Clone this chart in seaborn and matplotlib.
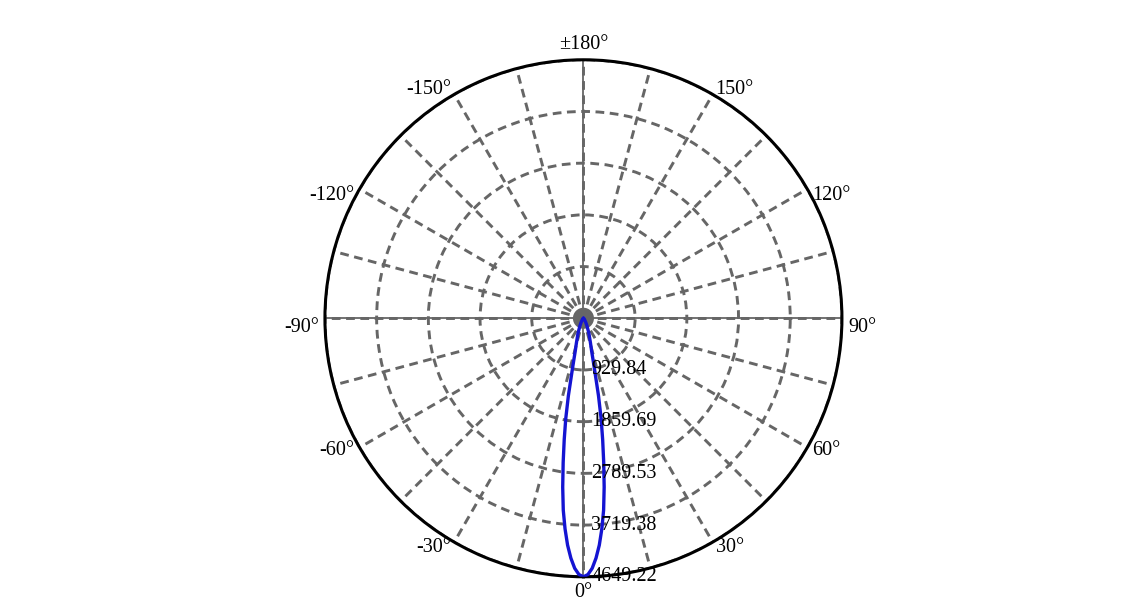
import numpy as np
import matplotlib
matplotlib.use("Agg")
import matplotlib.pyplot as plt
import matplotlib.transforms as mtransforms
import seaborn as sns

# %% Data: luminous intensity vs angle (symmetric beam)
angles_deg = [0, 1, 2, 3, 4, 5, 6, 7, 8, 9, 10, 11, 12, 13, 14, 16, 18, 20,
              25, 30, 40, 50, 60, 70, 80, 90, 120, 150, 180]
intensity = [4649.22, 4610, 4500, 4320, 4090, 3800, 3470, 3060, 2620, 2210,
             1830, 1420, 1010, 770, 610, 455, 350, 285, 150, 80, 30, 15, 8,
             5, 4, 3, 2, 2, 2]

ring_values = [929.84, 1859.69, 2789.53, 3719.38, 4649.22]
ring_labels = ["929.84", "1859.69", "2789.53", "3719.38", "4649.22"]

tick_angles = [0, 30, 60, 90, 120, 150, 180, -150, -120, -90, -60, -30]
tick_labels = ["0°", "30°", "60°", "90°", "120°", "150°", "±180°",
               "-150°", "-120°", "-90°", "-60°", "-30°"]

# mirror the half curve to a full closed curve
half_t = np.array(angles_deg, dtype=float)
half_r = np.array(intensity, dtype=float)
full_t = np.concatenate([-half_t[::-1], half_t[1:]])
full_r = np.concatenate([half_r[::-1], half_r[1:]])
curve = {"theta": np.deg2rad(full_t), "r": full_r}

# %% Plot
sns.set_theme(style="white")
plt.rcParams["font.family"] = ["Liberation Serif", "DejaVu Serif"]

fig = plt.figure(figsize=(11.33, 6.13), dpi=100)
ax = fig.add_axes([0.2868, 0.0591, 0.4563, 0.8434], projection="polar")
ax.set_theta_zero_location("S")
ax.set_theta_direction(1)
rmax = ring_values[-1]
ax.set_ylim(0, rmax)

grid_color = "#666666"
ax.set_thetagrids(np.arange(0, 360, 15), labels=[])
ax.set_rgrids(ring_values, labels=[])
ax.grid(True, color=grid_color, linestyle=(0, (3.0, 1.9)), linewidth=2.1)
ax.spines["polar"].set_color("black")
ax.spines["polar"].set_linewidth(2.2)

# solid main axes
for a in [0, 90, 180, 270]:
    ax.plot([np.deg2rad(a), np.deg2rad(a)], [0, rmax], color=grid_color,
            lw=1.3, zorder=1)

sns.scatterplot(x=[0], y=[0], ax=ax, color=grid_color, s=230,
                edgecolor="none", zorder=2)

sns.lineplot(x=curve["theta"], y=curve["r"], ax=ax, sort=False,
             color="#1414d2", lw=2.4, zorder=3)
ax.set_xlabel("")
ax.set_ylabel("")

# radial value labels along the 0° direction
off_r = mtransforms.offset_copy(ax.transData, fig=fig, x=8, y=0, units="dots")
for v, lab in zip(ring_values, ring_labels):
    ax.text(0, v, lab, transform=off_r, ha="left", va="center",
            fontsize=14.5, color="black", zorder=5)

# angle labels around the circle
pad = 6
for a, lab in zip(tick_angles, tick_labels):
    t = np.deg2rad(a)
    sx, sy = np.sin(t), -np.cos(t)
    tr = mtransforms.offset_copy(ax.transData, fig=fig, x=pad * sx,
                                 y=pad * sy, units="dots")
    if a == 0:
        ha, va = "center", "top"
    elif a == 180:
        ha, va = "center", "bottom"
    else:
        ha = "left" if a > 0 else "right"
        va = "top" if 90 <= abs(a) <= 120 else "center"
    ax.text(t, rmax, lab, transform=tr, ha=ha, va=va, fontsize=14.5,
            color="black", clip_on=False)

fig.savefig("out.png", dpi=100)
